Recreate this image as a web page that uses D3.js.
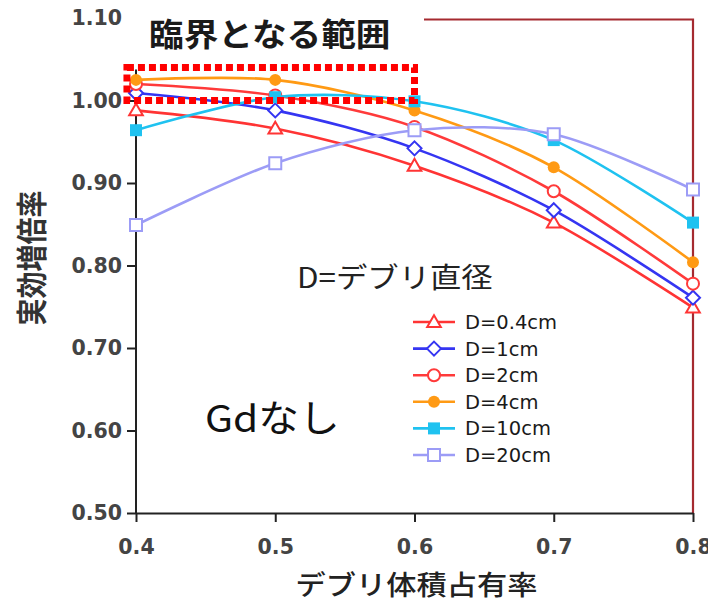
<!DOCTYPE html>
<html>
<head>
<meta charset="utf-8">
<script src="https://cdn.jsdelivr.net/npm/d3@7"></script>
<style>
  html, body { margin: 0; padding: 0; background: #fff; }
  svg { display: block; }
</style>
</head>
<body>
<svg id="chart" width="708" height="605"></svg>
<script>
// Debris volume fraction on the x axis
const volumeFraction = [0.4, 0.5, 0.6, 0.7, 0.8];
const xTickValues = [0.4, 0.5, 0.6, 0.7, 0.8];
const yTickValues = [0.5, 0.6, 0.7, 0.8, 0.9, 1.0, 1.1];

// Effective multiplication factor per debris diameter
const seriesLabels = ["D=0.4cm", "D=1cm", "D=2cm", "D=4cm", "D=10cm", "D=20cm"];
const kD04 = [0.988, 0.966, 0.921, 0.852, 0.749];
const kD1  = [1.009, 0.988, 0.942, 0.867, 0.761];
const kD2  = [1.020, 1.006, 0.968, 0.890, 0.778];
const kD4  = [1.025, 1.025, 0.988, 0.919, 0.804];
const kD10 = [0.964, 1.004, 0.999, 0.952, 0.852];
const kD20 = [0.849, 0.924, 0.964, 0.959, 0.892];

// Critical region box (x range, k range)
const criticalX = [0.3935, 0.6];
const criticalK = [1.0, 1.04];

const seriesValues = [kD04, kD1, kD2, kD4, kD10, kD20];

const styles = [
  { color: "#ff3434", marker: "triangle", filled: false },
  { color: "#3535f2", marker: "diamond",  filled: false },
  { color: "#ff3a3a", marker: "circle",   filled: false },
  { color: "#ff9a14", marker: "circle",   filled: true  },
  { color: "#1fc2f0", marker: "square",   filled: true  },
  { color: "#9c9cf6", marker: "square",   filled: false }
];

const svg = d3.select("#chart");
const x = d3.scaleLinear().domain([0.4, 0.8]).range([136, 693]);
const y = d3.scaleLinear().domain([0.5, 1.1]).range([513, 18]);

const latin = "'DejaVu Sans', 'Liberation Sans', sans-serif";
const cjk = "'Noto Sans CJK JP', 'Noto Sans', sans-serif";

// Marker shapes
const markerTypes = {
  triangle: { draw(ctx, s) { const h = s; ctx.moveTo(0, -h * 0.62); ctx.lineTo(h * 0.62, h * 0.45); ctx.lineTo(-h * 0.62, h * 0.45); ctx.closePath(); } },
  diamond:  { draw(ctx, s) { ctx.moveTo(0, -s); ctx.lineTo(s, 0); ctx.lineTo(0, s); ctx.lineTo(-s, 0); ctx.closePath(); } },
  circle:   { draw(ctx, s) { ctx.moveTo(s, 0); ctx.arc(0, 0, s, 0, 2 * Math.PI); } },
  square:   { draw(ctx, s) { ctx.rect(-s, -s, 2 * s, 2 * s); } }
};
const markerSize = { triangle: 11, diamond: 7, circle: 6, square: 6 };
function markerPath(kind) {
  return d3.symbol().type(markerTypes[kind]).size(markerSize[kind])();
}

// Right-hand frame line in dark red
svg.append("path")
  .attr("d", `M${424},${y(1.1) + 1.5}H${x(0.8)}V${y(0.5)}`)
  .attr("fill", "none")
  .attr("stroke", "#a52a30")
  .attr("stroke-width", 2.2);

// Y axis
const yAxis = svg.append("g")
  .attr("transform", `translate(${x(0.4)},0)`)
  .call(d3.axisLeft(y).tickValues(yTickValues).tickSize(9).tickSizeOuter(0).tickFormat(d3.format(".2f")));
yAxis.select(".domain").remove();
yAxis.selectAll(".tick").filter(d => d > 1.05).select("line").remove();
yAxis.selectAll(".tick line").attr("stroke", "#222").attr("stroke-width", 2);
yAxis.selectAll(".tick text")
  .attr("x", -14)
  .attr("font-family", latin)
  .attr("font-weight", "bold")
  .attr("font-size", 20.5)
  .attr("fill", "#444");
svg.append("line")
  .attr("x1", x(0.4)).attr("x2", x(0.4))
  .attr("y1", y(0.5)).attr("y2", y(criticalK[1]) + 2)
  .attr("stroke", "#222").attr("stroke-width", 2);

// X axis
const xAxis = svg.append("g")
  .attr("transform", `translate(0,${y(0.5)})`)
  .call(d3.axisBottom(x).tickValues(xTickValues).tickSize(9).tickSizeOuter(0).tickFormat(d3.format(".1f")));
xAxis.select(".domain").attr("stroke", "#222").attr("stroke-width", 2);
xAxis.selectAll(".tick line").attr("stroke", "#222").attr("stroke-width", 2);
xAxis.selectAll(".tick text")
  .attr("y", 26)
  .attr("font-family", latin)
  .attr("font-weight", "bold")
  .attr("font-size", 20.5)
  .attr("fill", "#444");

// Axis titles
svg.append("text")
  .attr("transform", `translate(${x(0.6) + 2},595) scale(1.12,1)`)
  .attr("text-anchor", "middle")
  .attr("font-family", cjk)
  .attr("font-weight", 500)
  .attr("font-size", 27)
  .attr("fill", "#222")
  .text("デブリ体積占有率");

svg.append("text")
  .attr("transform", "translate(43,258) rotate(-90) scale(1,1.12)")
  .attr("text-anchor", "middle")
  .attr("font-family", cjk)
  .attr("font-weight", "bold")
  .attr("font-size", 27)
  .attr("fill", "#333")
  .text("実効増倍率");

// Curves and markers
const line = d3.line()
  .x((d, i) => x(volumeFraction[i]))
  .y(d => y(d))
  .curve(d3.curveCardinal.tension(0.1));

seriesValues.forEach((vals, si) => {
  const st = styles[si];
  const g = svg.append("g");
  g.append("path")
    .attr("d", line(vals))
    .attr("fill", "none")
    .attr("stroke", st.color)
    .attr("stroke-width", 2.6);
  g.selectAll("path.mk")
    .data(vals)
    .join("path")
    .attr("class", "mk")
    .attr("transform", (d, i) => `translate(${x(volumeFraction[i])},${y(d)})`)
    .attr("d", markerPath(st.marker))
    .attr("fill", st.filled ? st.color : "#fff")
    .attr("stroke", st.color)
    .attr("stroke-width", st.filled ? 0 : 2);
});

// Critical region marker
svg.append("rect")
  .attr("x", x(criticalX[0]))
  .attr("y", y(criticalK[1]))
  .attr("width", x(criticalX[1]) - x(criticalX[0]))
  .attr("height", y(criticalK[0]) - y(criticalK[1]))
  .attr("fill", "none")
  .attr("stroke", "#ff0000")
  .attr("stroke-width", 7)
  .attr("stroke-dasharray", "7 4");

svg.append("text")
  .attr("transform", "translate(149,46) scale(1.1,1)")
  .attr("font-family", cjk)
  .attr("font-weight", "bold")
  .attr("font-size", 31.5)
  .attr("fill", "#1a1a1a")
  .text("臨界となる範囲");

// Annotations
svg.append("text")
  .attr("transform", "translate(297,288) scale(1.12,1)")
  .attr("font-family", cjk)
  .attr("font-size", 28)
  .attr("fill", "#222")
  .text("D=デブリ直径");

svg.append("text")
  .attr("transform", "translate(205,432) scale(1.1,1)")
  .attr("font-family", cjk)
  .attr("font-size", 37)
  .attr("fill", "#111")
  .text("Gdなし");

// Legend
const legend = svg.append("g").attr("transform", "translate(413,322)");
seriesLabels.forEach((name, si) => {
  const st = styles[si];
  const row = legend.append("g").attr("transform", `translate(0,${si * 26.6})`);
  row.append("line")
    .attr("x1", 0).attr("x2", 42)
    .attr("stroke", st.color).attr("stroke-width", 2.6);
  row.append("path")
    .attr("transform", "translate(21,0)")
    .attr("d", markerPath(st.marker))
    .attr("fill", st.filled ? st.color : "#fff")
    .attr("stroke", st.color)
    .attr("stroke-width", st.filled ? 0 : 2);
  row.append("text")
    .attr("x", 52)
    .attr("y", 7)
    .attr("font-family", latin)
    .attr("font-size", 19.5)
    .attr("fill", "#1a1a1a")
    .text(name);
});
</script>
</body>
</html>
